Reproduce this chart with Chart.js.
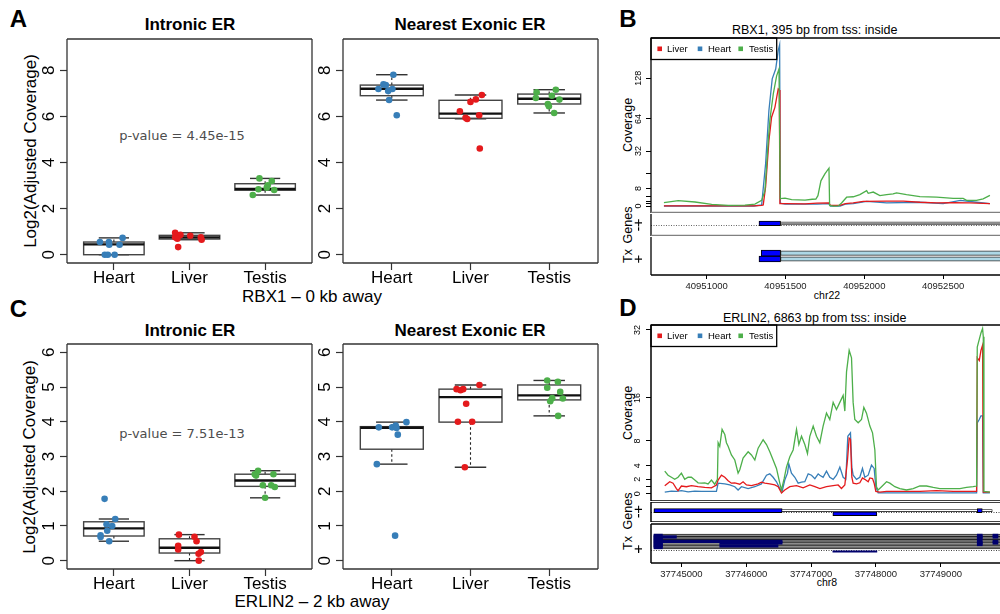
<!DOCTYPE html>
<html><head><meta charset="utf-8">
<script src="https://cdn.jsdelivr.net/npm/chart.js@4.4.1/dist/chart.umd.min.js"></script>
<style>
html,body{margin:0;padding:0;background:#fff;}
body{width:1000px;height:614px;overflow:hidden;position:relative;font-family:"Liberation Sans",Arial,Helvetica,sans-serif;}
canvas{position:absolute;}
.t{position:absolute;white-space:nowrap;line-height:1;transform:translate(-50%,-50%);color:#000;}
.r{transform:translate(-50%,-50%) rotate(-90deg);}
.L{font-weight:bold;font-size:24px;}
.h{font-weight:bold;font-size:17px;}
.p{font-family:"DejaVu Sans",sans-serif;font-size:13px;color:#4d4d4d;}
</style></head><body>
<div class="t L" style="left:18.5px;top:18.5px">A</div>
<div class="t L" style="left:628px;top:18.5px">B</div>
<div class="t L" style="left:18.5px;top:309px">C</div>
<div class="t L" style="left:628px;top:307.5px">D</div>
<div class="t h" style="left:190px;top:23.5px">Intronic ER</div>
<div class="t h" style="left:470px;top:23.5px">Nearest Exonic ER</div>
<div class="t h" style="left:190px;top:330px">Intronic ER</div>
<div class="t h" style="left:470px;top:330px">Nearest Exonic ER</div>
<div class="t r" style="left:30px;top:151px;font-size:17px">Log2(Adjusted Coverage)</div>
<div class="t r" style="left:29px;top:457px;font-size:17px">Log2(Adjusted Coverage)</div>
<div class="t p" style="left:182px;top:135px">p-value = 4.45e-15</div>
<div class="t p" style="left:182px;top:432.5px">p-value = 7.51e-13</div>
<div class="t" style="left:312px;top:296px;font-size:17px">RBX1 – 0 kb away</div>
<div class="t" style="left:312px;top:601px;font-size:17px">ERLIN2 – 2 kb away</div>
<div class="t" style="left:814.7px;top:30px;font-size:12.5px">RBX1, 395 bp from tss: inside</div>
<div class="t" style="left:814.7px;top:317.5px;font-size:12.5px">ERLIN2, 6863 bp from tss: inside</div>
<div class="t r" style="left:627.7px;top:125px;font-size:12.5px">Coverage</div>
<div class="t r" style="left:627.7px;top:413px;font-size:12.5px">Coverage</div>
<div class="t r" style="left:628px;top:224.5px;font-size:12.5px">Genes</div>
<div class="t r" style="left:628px;top:256px;font-size:12.5px">Tx</div>
<div class="t r" style="left:628px;top:511px;font-size:12.5px">Genes</div>
<div class="t r" style="left:628px;top:543px;font-size:12.5px">Tx</div>
<div class="t" style="left:827px;top:295px;font-size:10.5px">chr22</div>
<div class="t" style="left:827px;top:582px;font-size:10.5px">chr8</div>
<script>
// ---------------- DATA ----------------
const tissues = ['Heart', 'Liver', 'Testis'];
const tissueColors = ['#377EB8', '#E41A1C', '#4DAF4A'];

// box statistics per tissue: [lower whisker, Q1, median, Q3, upper whisker]
const aIntronBox = [[0, 0, 0.45, 0.55, 0.73], [0.65, 0.68, 0.75, 0.84, 0.95], [2.59, 2.8, 2.85, 3.08, 3.31]];
const aExonBox = [[6.71, 6.9, 7.2, 7.36, 7.81], [5.9, 5.92, 6.12, 6.7, 6.93], [6.15, 6.54, 6.77, 6.97, 7.16]];
const cIntronBox = [[0.56, 0.71, 0.93, 1.12, 1.2], [0, 0.22, 0.37, 0.63, 0.75], [1.81, 2.14, 2.31, 2.49, 2.59]];
const cExonBox = [[2.78, 3.21, 3.83, 3.86, 3.99], [2.69, 3.99, 4.71, 4.94, 5.06], [4.17, 4.63, 4.76, 5.06, 5.19]];

// sample points per tissue: [jitter (category units), log2 coverage]
const aIntronPts = [
  [[-0.185, 0.55], [-0.066, 0.55], [-0.062, 0.43], [0.075, 0.43], [0.115, 0.73], [-0.12, 0], [-0.08, 0], [0.01, 0]],
  [[-0.19, 0.95], [-0.12, 0.86], [0.01, 0.82], [-0.19, 0.76], [-0.16, 0.69], [0.15, 0.76], [0.16, 0.65], [-0.15, 0.33]],
  [[-0.075, 3.31], [0.088, 3.2], [0.035, 3.01], [0.022, 2.91], [-0.088, 2.84], [0.12, 2.81], [-0.163, 2.59]]
];
const aExonPts = [
  [[0.02, 7.81], [-0.106, 7.39], [-0.076, 7.36], [-0.17, 7.19], [0.008, 7.19], [-0.046, 7.1], [-0.034, 6.71], [0.063, 6.05]],
  [[0.144, 6.93], [0.068, 6.74], [0, 6.63], [-0.135, 6.22], [0.11, 6.05], [-0.063, 5.94], [-0.042, 5.89], [0.118, 4.61]],
  [[0.084, 7.16], [-0.16, 7.05], [0.034, 6.9], [-0.17, 6.8], [0.13, 6.73], [-0.017, 6.54], [-0.004, 6.44], [0.063, 6.15]]
];
const cIntronPts = [
  [[-0.123, 1.78], [0.018, 1.2], [-0.097, 1.05], [-0.022, 1.0], [-0.088, 0.86], [-0.176, 0.73], [-0.176, 0.68], [-0.062, 0.56]],
  [[-0.14, 0.75], [0.066, 0.69], [0.093, 0.56], [-0.15, 0.43], [-0.15, 0.32], [0.15, 0.25], [0.12, 0.2], [0.123, 0]],
  [[-0.093, 2.59], [-0.137, 2.49], [0.11, 2.49], [-0.12, 2.45], [-0.03, 2.17], [0.08, 2.17], [0.128, 2.12], [0, 1.81]]
];
const cExonPts = [
  [[0.186, 3.99], [-0.165, 3.84], [0.004, 3.84], [0.05, 3.89], [0.06, 3.82], [0.076, 3.63], [-0.19, 2.78], [0.042, 0.72]],
  [[0.114, 5.06], [-0.177, 4.94], [-0.127, 4.91], [-0.093, 4.94], [-0.055, 4.52], [-0.16, 4.0], [0.021, 4.0], [-0.072, 2.69]],
  [[-0.025, 5.19], [0.11, 5.15], [-0.025, 4.98], [0.14, 4.86], [0.038, 4.68], [0.173, 4.67], [0.013, 4.59], [0.114, 4.17]]
];
const aYTicks = [0, 2, 4, 6, 8];
const cYTicks = [0, 1, 2, 3, 4, 5, 6];

// coverage tracks: [genomic position, coverage]
const legendNames = ['Liver', 'Heart', 'Testis'];
const bTestis = [[40950729,1.4],[40950820,2.3],[40950926,1.7],[40951032,0.7],[40951137,0.3],[40951243,0.4],[40951306,0.85],[40951349,2.4],[40951370,6.9],[40951391,41],[40951402,64],[40951423,100],[40951444,133],[40951459,148],[40951465,148],[40951467,3.2],[40951497,3.4],[40951539,2.7],[40951624,2.5],[40951670,2.9],[40951693,3],[40951706,4.5],[40951725,12],[40951750,16],[40951776,19.6],[40951780,0.3],[40951803,0],[40951835,0.1],[40951856,1.3],[40951888,3.8],[40951930,4.0],[40951972,5.0],[40952015,6.9],[40952025,5.6],[40952057,6.2],[40952099,4.5],[40952142,5.0],[40952183,5.3],[40952205,5.8],[40952268,5.0],[40952353,4.1],[40952459,3.8],[40952564,3.3],[40952627,3.3],[40952649,2.4],[40952712,2.4],[40952754,3.1],[40952797,4.6]];
const bLiver = [[40950729,0.1],[40951000,0.1],[40951300,0.1],[40951349,0.3],[40951359,0.5],[40951374,8.8],[40951395,41],[40951412,66],[40951433,79],[40951454,108],[40951461,106],[40951465,1.0],[40951497,1.0],[40951624,0.9],[40951700,1.2],[40951775,1.3],[40951785,0.3],[40951846,0.3],[40951880,1.0],[40951930,1.3],[40951994,2.0],[40952142,2.1],[40952248,2.1],[40952353,1.6],[40952459,1.3],[40952564,1.4],[40952670,1.3],[40952797,1.0]];
const bHeart = [[40950729,0.05],[40951300,0.05],[40951349,0.5],[40951374,22.6],[40951395,74.7],[40951416,127],[40951438,148],[40951454,195],[40951463,212],[40951467,1.2],[40951497,0.8],[40951700,0.8],[40951775,1.0],[40951785,0],[40951846,0],[40951880,0.8],[40951930,1.0],[40952015,2.0],[40952142,1.3],[40952353,1.6],[40952500,1.0],[40952610,2.4],[40952712,1.6],[40952797,1.0]];
const dTestis = [[37744743,3.2],[37744794,2.6],[37744846,2.3],[37744897,2.0],[37744948,2.3],[37745000,2.9],[37745051,2.0],[37745103,2.3],[37745154,2.3],[37745206,1.9],[37745257,1.5],[37745308,1.45],[37745360,1.5],[37745411,1.35],[37745463,1.9],[37745514,1.3],[37745555,2.0],[37745566,7.7],[37745591,7.1],[37745627,10],[37745669,9.1],[37745694,7.7],[37745720,7.1],[37745771,5.7],[37745823,4.9],[37745874,2.9],[37745900,3.4],[37745951,5.2],[37746029,6.2],[37746080,5.7],[37746132,4.9],[37746183,6.8],[37746260,8.2],[37746312,7.4],[37746363,6.2],[37746414,4.9],[37746466,3.6],[37746517,1.45],[37746543,0.5],[37746584,2.1],[37746620,3.8],[37746672,5.4],[37746723,6.5],[37746775,10],[37746811,7.4],[37746852,8.8],[37746903,7.4],[37746944,5.9],[37746980,8.8],[37747032,10.6],[37747083,8.8],[37747134,7.7],[37747185,10.6],[37747237,13.0],[37747288,11.8],[37747340,15.1],[37747391,13.7],[37747443,15.1],[37747494,16.5],[37747520,13.4],[37747546,21.6],[37747587,26.7],[37747623,24.9],[37747648,15.1],[37747674,11.8],[37747726,11.2],[37747777,11.8],[37747813,14.1],[37747854,13.0],[37747906,10.6],[37747947,9.4],[37747983,6.5],[37748008,0.95],[37748034,0.5],[37748086,0.95],[37748163,1.65],[37748214,1.45],[37748291,0.95],[37748369,0.7],[37748471,0.5],[37748574,0.7],[37748677,1.05],[37748780,1.05],[37748883,0.85],[37748986,0.7],[37749089,0.7],[37749192,0.7],[37749294,0.7],[37749397,0.85],[37749500,0.95],[37749552,1.05],[37749562,27.5],[37749593,29.5],[37749619,31.2],[37749644,32.4],[37749655,30.2],[37749665,0.3],[37749757,0.2]];
const dLiver = [[37744743,1.1],[37744820,1.65],[37744871,1.45],[37744923,0.7],[37744948,0.4],[37745000,1.05],[37745077,0.95],[37745154,1.1],[37745257,0.95],[37745360,0.85],[37745463,0.8],[37745540,1.2],[37745566,1.9],[37745617,2.6],[37745669,2.3],[37745720,1.8],[37745771,1.45],[37745823,1.5],[37745900,1.3],[37745951,1.65],[37746003,1.2],[37746080,1.1],[37746183,1.35],[37746234,1.6],[37746286,1.45],[37746363,1.35],[37746440,1.2],[37746492,0.95],[37746543,0.1],[37746594,0.5],[37746672,0.95],[37746775,1.1],[37746877,0.8],[37746980,1.2],[37747058,0.95],[37747135,0.7],[37747237,0.95],[37747340,1.1],[37747417,1.2],[37747468,0.7],[37747520,1.2],[37747561,4.9],[37747587,8.5],[37747607,8.3],[37747628,2.3],[37747648,1.45],[37747700,1.35],[37747751,1.5],[37747792,2.2],[37747828,2.0],[37747880,1.65],[37747906,2.2],[37747947,2.1],[37747972,1.45],[37747998,0.3],[37748060,0.2],[37748163,0.3],[37748420,0.3],[37748677,0.3],[37748934,0.4],[37749192,0.3],[37749500,0.3],[37749552,0.3],[37749562,24.9],[37749593,24.2],[37749619,26.7],[37749644,28.0],[37749655,0.2],[37749757,0.2]];
const dHeart = [[37744743,0.2],[37744846,0.35],[37744923,0.3],[37745000,0.4],[37745103,0.25],[37745206,0.35],[37745308,0.3],[37745411,0.3],[37745540,0.3],[37745566,1.45],[37745669,1.35],[37745746,1.2],[37745823,0.95],[37745874,0.5],[37745926,0.95],[37746029,0.7],[37746132,0.95],[37746234,1.35],[37746312,2.6],[37746363,2.8],[37746414,2.3],[37746466,1.65],[37746517,0.7],[37746553,0.3],[37746594,1.9],[37746636,2.9],[37746656,4.3],[37746697,2.9],[37746749,2.3],[37746800,1.45],[37746852,1.6],[37746903,1.65],[37746955,2.8],[37747006,2.6],[37747058,2.1],[37747109,2.8],[37747134,2.6],[37747185,2.3],[37747237,3.2],[37747288,2.3],[37747340,2.0],[37747391,2.6],[37747443,3.8],[37747494,2.3],[37747535,2.0],[37747566,8.8],[37747607,9.4],[37747628,3.8],[37747648,2.6],[37747700,2.0],[37747751,2.3],[37747792,3.6],[37747828,2.3],[37747880,2.6],[37747931,4.1],[37747972,3.6],[37747998,0.95],[37748034,0.1],[37748400,0.1],[37749000,0.1],[37749552,0.1],[37749562,11.2],[37749593,11.8],[37749619,12.5],[37749644,12.5],[37749655,0.1],[37749757,0.1]];
const bCovTicks = [0, 1, 2, 4, 8, 16, 32, 64, 128];
const bCovLabels = ['0', '', '', '', '8', '', '32', '64', '128'];
const dCovTicks = [0, 1, 2, 4, 8, 16, 32];
const dCovLabels = ['0', '', '2', '4', '8', '16', '32'];
const bXTicks = [40951000, 40951500, 40952000, 40952500];
const dXTicks = [37745000, 37746000, 37747000, 37748000, 37749000];

// gene / transcript annotation: [start, end]
const bGeneExons = [[40951332, 40951469]];
const bGeneBody = [[40951469, 40953600]];
const bTxExons = [[[40951346, 40951469]], [[40951332, 40951469]]];
const bTxBody = [[40951469, 40953600], [40951469, 40953600]];
const dGenePlusExons = [[37744577, 37746553], [37749562, 37749639]];
const dGenePlusBody = [[37744577, 37749793]];
const dGeneMinusExons = [[37747335, 37748014]];
const dTxBody = [[37744577, 37750600], [37744577, 37750600], [37744577, 37750600], [37744577, 37750600], [37744577, 37750600], [37744577, 37750600], [37744577, 37750600], [37744577, 37750600], [37744577, 37750600]];
const dTxExons = [
  [[37744577, 37744707], [37749562, 37749639], [37749804, 37749881]],
  [[37744577, 37744923], [37749562, 37749639], [37749804, 37749881]],
  [[37744577, 37744707], [37749562, 37749639]],
  [[37744577, 37744707]],
  [[37744577, 37746553], [37749562, 37749639], [37749804, 37749881]],
  [[37744577, 37744707], [37745591, 37746553], [37749562, 37749639], [37749804, 37749881]],
  [[37744577, 37744707], [37749562, 37749639]],
  [[37744577, 37744707], [37745591, 37746490]],
  [[37744577, 37744707]]
];
const dTxMinus = [[37747335, 37748014]];

// ---------------- RENDERING ----------------
const FONT = '"Liberation Sans", Arial, Helvetica, sans-serif';
Chart.defaults.font.family = FONT;
Chart.defaults.color = '#000';
const tf = v => Math.log2(v + 32) - 5;

function mk(left, top, w, h) {
  const c = document.createElement('canvas');
  c.width = w; c.height = h;
  c.style.left = left + 'px'; c.style.top = top + 'px';
  c.style.width = w + 'px'; c.style.height = h + 'px';
  document.body.appendChild(c);
  return c;
}

const framePlugin = {
  id: 'frames',
  afterDraw(chart, args, opts) {
    const { ctx, chartArea: a } = chart;
    (opts.sides || []).forEach(s => {
      ctx.save();
      ctx.strokeStyle = s.color; ctx.lineWidth = s.width;
      ctx.beginPath();
      if (s.side === 'top') { ctx.moveTo(a.left, a.top); ctx.lineTo(a.right, a.top); }
      if (s.side === 'bottom') { ctx.moveTo(a.left, a.bottom); ctx.lineTo(a.right, a.bottom); }
      if (s.side === 'left') { ctx.moveTo(a.left, a.top); ctx.lineTo(a.left, a.bottom); }
      if (s.side === 'right') { ctx.moveTo(a.right, a.top); ctx.lineTo(a.right, a.bottom); }
      ctx.stroke(); ctx.restore();
    });
  }
};

const boxPlugin = {
  id: 'boxes',
  beforeDatasetsDraw(chart, args, opts) {
    if (!opts.stats) return;
    const { ctx } = chart; const xs = chart.scales.x, ys = chart.scales.y;
    const ln = (x1, y1, x2, y2) => { ctx.beginPath(); ctx.moveTo(x1, y1); ctx.lineTo(x2, y2); ctx.stroke(); };
    opts.stats.forEach((s, i) => {
      const cx = xs.getPixelForValue(i + 1);
      const hw = xs.getPixelForValue(i + 1.4) - cx;
      const [mn, q1, md, q3, mx] = s.map(v => ys.getPixelForValue(v));
      ctx.save();
      ctx.strokeStyle = '#222'; ctx.lineWidth = 1.1;
      ctx.setLineDash([2.5, 2.5]);
      ln(cx, q3, cx, mx); ln(cx, q1, cx, mn);
      ctx.setLineDash([]);
      ctx.strokeStyle = '#333'; ctx.lineWidth = 1.4;
      ln(cx - hw / 2, mx, cx + hw / 2, mx); ln(cx - hw / 2, mn, cx + hw / 2, mn);
      ctx.strokeStyle = '#444'; ctx.lineWidth = 1.4;
      ctx.strokeRect(cx - hw, q3, 2 * hw, q1 - q3);
      ctx.strokeStyle = '#111'; ctx.lineWidth = 2.4;
      ln(cx - hw, md, cx + hw, md);
      ctx.restore();
    });
  }
};

const covLegendPlugin = {
  id: 'covLegend',
  afterDatasetsDraw(chart, args, opts) {
    if (!opts.names) return;
    const { ctx, chartArea: a } = chart;
    ctx.save();
    ctx.fillStyle = '#fff'; ctx.fillRect(a.left, a.top, 125.7, 21.5);
    ctx.strokeStyle = '#000'; ctx.lineWidth = 1.3; ctx.strokeRect(a.left, a.top, 125.7, 21.5);
    ctx.font = '9.5px ' + FONT; ctx.textBaseline = 'middle';
    const sq = [8.7, 49, 89.7], tx = [16, 57, 98];
    opts.names.forEach((n, i) => {
      ctx.fillStyle = opts.colors[i];
      ctx.fillRect(a.left + sq[i] - 2.3, a.top + 10.8 - 2.3, 4.6, 4.6);
      ctx.fillStyle = '#000';
      ctx.fillText(n, a.left + tx[i], a.top + 11);
    });
    ctx.restore();
  }
};

const dottedPlugin = {
  id: 'dotted',
  beforeDatasetsDraw(chart, args, opts) {
    if (!opts.values) return;
    const { ctx, chartArea: a } = chart; const ys = chart.scales.y;
    ctx.save(); ctx.strokeStyle = opts.color || '#555'; ctx.lineWidth = 1; ctx.setLineDash([1, 1.5]);
    opts.values.forEach(v => { const y = Math.round(ys.getPixelForValue(v)) + 0.5; ctx.beginPath(); ctx.moveTo(a.left, y); ctx.lineTo(a.right, y); ctx.stroke(); });
    ctx.restore();
  }
};

const noPad = s => { s.paddingTop = 0; s.paddingBottom = 0; s.paddingLeft = 0; s.paddingRight = 0; };

function boxChart(canvas, stats, pts, yMin, yMax, yTicks, o) {
  return new Chart(canvas, {
    type: 'scatter',
    data: {
      datasets: tissues.map((t, i) => ({
        label: t,
        data: pts[i].map(([j, v]) => ({ x: i + 1 + j, y: v })),
        backgroundColor: tissueColors[i], borderColor: tissueColors[i],
        pointRadius: 3.3, pointBorderWidth: 0, pointHoverRadius: 3.3
      }))
    },
    options: {
      responsive: false, animation: false, devicePixelRatio: 1, events: [],
      layout: { padding: { top: o.padTop, right: o.padRight, left: 0, bottom: 0 } },
      plugins: { legend: { display: false }, tooltip: { enabled: false }, boxes: { stats },
        frames: { sides: ['top', 'bottom', 'left', 'right'].map(s => ({ side: s, color: '#333', width: 1.3 })) } },
      scales: {
        x: {
          type: 'linear', min: 0.38, max: 3.62,
          afterBuildTicks: s => { s.ticks = [1, 2, 3].map(v => ({ value: v })); },
          afterFit: s => { s.height = o.xH; noPad(s); },
          ticks: { autoSkip: false, maxRotation: 0, padding: -1.5, font: { size: 17 }, color: '#000', callback: v => tissues[v - 1] },
          grid: { drawOnChartArea: false, drawTicks: true, tickLength: 7, tickColor: '#333', tickWidth: 1.2 },
          border: { display: false }
        },
        y: {
          type: 'linear', min: yMin, max: yMax,
          afterBuildTicks: s => { s.ticks = yTicks.map(v => ({ value: v })); },
          afterFit: s => { s.width = o.yW; noPad(s); },
          ticks: { autoSkip: false, minRotation: 90, maxRotation: 90, crossAlign: 'center', padding: 6, font: { size: 17 }, color: '#000', callback: v => String(v) },
          grid: { drawOnChartArea: false, drawTicks: true, tickLength: 7, tickColor: '#333', tickWidth: 1.2 },
          border: { display: false }
        }
      }
    },
    plugins: [boxPlugin, framePlugin]
  });
}

function covChart(canvas, series, xMin, xMax, yMin, yMax, tickVals, tickLabels, o) {
  return new Chart(canvas, {
    type: 'line',
    data: {
      datasets: series.map(s => ({
        label: s.name, data: s.data.map(([p, v]) => ({ x: p, y: tf(v) })),
        borderColor: s.color, borderWidth: 1.3, pointRadius: 0, tension: 0, fill: false
      }))
    },
    options: {
      responsive: false, animation: false, devicePixelRatio: 1, events: [],
      layout: { padding: { top: o.padTop, right: o.padRight, left: 0, bottom: 0 } },
      plugins: { legend: { display: false }, tooltip: { enabled: false },
        frames: { sides: o.sides }, covLegend: { names: legendNames, colors: ['#E41A1C', '#377EB8', '#4DAF4A'] } },
      scales: {
        x: { type: 'linear', min: xMin, max: xMax, display: false },
        y: {
          type: 'linear', min: yMin, max: yMax,
          afterBuildTicks: s => { s.ticks = tickVals.map(v => ({ value: tf(v) })); },
          afterFit: s => { s.width = o.yW; noPad(s); },
          ticks: { autoSkip: false, minRotation: 90, maxRotation: 90, crossAlign: 'center', padding: o.tickPad, font: { size: 9 }, color: '#000', callback: (v, i) => tickLabels[i] },
          grid: { drawOnChartArea: false, drawTicks: true, tickLength: 5, tickColor: '#000', tickWidth: 1 },
          border: { display: false }
        }
      }
    },
    plugins: [framePlugin, covLegendPlugin]
  });
}

function bars(rows, thickness, bg, border, bw) {
  return { type: 'bar', data: rows, backgroundColor: bg, borderColor: border, borderWidth: bw, barThickness: thickness, grouped: false, borderSkipped: false };
}

function trackChart(canvas, datasets, o) {
  return new Chart(canvas, {
    type: 'bar',
    data: { datasets },
    options: {
      indexAxis: 'y', responsive: false, animation: false, devicePixelRatio: 1, events: [],
      layout: { padding: { top: o.padTop, right: o.padRight, left: 0, bottom: 0 } },
      plugins: { legend: { display: false }, tooltip: { enabled: false }, frames: { sides: o.sides }, dotted: { values: o.dotted, color: o.dotColor } },
      scales: {
        x: {
          type: 'linear', min: o.xMin, max: o.xMax, display: !!o.xTicks,
          afterBuildTicks: s => { if (o.xTicks) s.ticks = o.xTicks.map(v => ({ value: v })); },
          afterFit: s => { s.height = o.xH || 0; noPad(s); },
          ticks: { autoSkip: false, maxRotation: 0, padding: 2, font: { size: 9.5 }, color: '#222', callback: v => String(v) },
          grid: { drawOnChartArea: false, drawTicks: true, tickLength: 4, tickColor: '#000', tickWidth: 1 },
          border: { display: false }
        },
        y: {
          type: 'linear', min: 0, max: 1,
          afterBuildTicks: s => { s.ticks = o.yTicks.map(v => ({ value: v })); },
          afterFit: s => { s.width = o.yW; noPad(s); },
          ticks: { autoSkip: false, minRotation: 90, maxRotation: 90, crossAlign: 'center', padding: 8, font: { size: 15 }, color: '#000', callback: (v, i) => o.yLabels[i] },
          grid: { display: false, drawTicks: false, tickLength: 0 },
          border: { display: false }
        }
      }
    },
    plugins: [framePlugin, dottedPlugin]
  });
}

// ---- Panel A / C box plots ----
boxChart(mk(0, 0, 320, 300), aIntronBox, aIntronPts, -0.36, 9.36, aYTicks, { padTop: 39, padRight: 8, yW: 67, xH: 37 });
boxChart(mk(300, 0, 310, 300), aExonBox, aExonPts, -0.36, 9.36, aYTicks, { padTop: 39, padRight: 12, yW: 43, xH: 37 });
boxChart(mk(0, 300, 320, 314), cIntronBox, cIntronPts, -0.24, 6.24, cYTicks, { padTop: 44, padRight: 8, yW: 67, xH: 45 });
boxChart(mk(300, 300, 310, 314), cExonBox, cExonPts, -0.24, 6.24, cYTicks, { padTop: 44, padRight: 12, yW: 43, xH: 45 });

// ---- Panel B ----
const bX = [40950647, 40952880];
covChart(mk(600, 30, 420, 183), [
  { name: 'Testis', data: bTestis, color: '#4DAF4A' },
  { name: 'Liver', data: bLiver, color: '#E41A1C' },
  { name: 'Heart', data: bHeart, color: '#377EB8' }
], bX[0], bX[1], -0.125, 3.055, bCovTicks, bCovLabels,
  { padTop: 8, padRight: 17, yW: 51, tickPad: 0, sides: [{ side: 'top', color: '#000', width: 1.3 }, { side: 'left', color: '#000', width: 1.3 }, { side: 'bottom', color: '#808080', width: 2.7 }] });

const toRows = (arr, y) => arr.map(([s, e]) => ({ x: [s, e], y }));
trackChart(mk(600, 213, 420, 23), [
  bars(toRows(bGeneExons, 0.65), 4.5, '#0000FF', '#000', 1),
  bars(toRows(bGeneBody, 0.65), 3, '#8c8c8c', '#555', 0.6)
], { xMin: bX[0], xMax: bX[1], padTop: 1, padRight: 17, yW: 51, yTicks: [0.7, 0.14], yLabels: ['+', '-'], dotted: [0.53], dotColor: '#666',
  sides: [{ side: 'left', color: '#000', width: 1.3 }, { side: 'bottom', color: '#808080', width: 2.7 }] });

trackChart(mk(600, 236, 420, 64), [
  bars(toRows(bTxExons[0], 0.65), 6, '#0000FF', '#000', 1),
  bars(toRows(bTxExons[1], 0.34), 6, '#0000FF', '#000', 1),
  bars(toRows([bTxBody[0]], 0.65), 4.5, '#ADD8E6', '#333', 1),
  bars(toRows([bTxBody[1]], 0.34), 4.5, '#ADD8E6', '#333', 1)
], { xMin: bX[0], xMax: bX[1], padTop: 1, padRight: 17, yW: 51, xH: 25, xTicks: bXTicks, yTicks: [0.34], yLabels: ['+'],
  sides: [{ side: 'left', color: '#000', width: 1.3 }, { side: 'bottom', color: '#000', width: 1.3 }] });

// ---- Panel D ----
const dX = [37744531, 37749959];
covChart(mk(600, 320, 420, 181), [
  { name: 'Testis', data: dTestis, color: '#4DAF4A' },
  { name: 'Liver', data: dLiver, color: '#E41A1C' },
  { name: 'Heart', data: dHeart, color: '#377EB8' }
], dX[0], dX[1], -0.045, 1.0305, dCovTicks, dCovLabels,
  { padTop: 5, padRight: 17, yW: 51, tickPad: 3, sides: ['top', 'left', 'bottom'].map(s => ({ side: s, color: '#000', width: 1.5 })) });

trackChart(mk(600, 502, 420, 20), [
  bars(toRows(dGenePlusExons, 0.635), 4, '#0000FF', '#000', 1),
  bars(toRows(dGenePlusBody, 0.635), 2.2, '#fff', '#000', 0.8),
  bars(toRows(dGeneMinusExons, 0.325), 4, '#0000FF', '#000', 1)
], { xMin: dX[0], xMax: dX[1], padTop: 0, padRight: 17, yW: 51, yTicks: [0.76, 0.12], yLabels: ['+', '-'], dotted: [0.485], dotColor: '#444',
  sides: ['top', 'left', 'bottom'].map(s => ({ side: s, color: '#000', width: 1.5 })) });

const dTxDatasets = [];
dTxExons.forEach((ex, k) => { dTxDatasets.push(bars(toRows(ex, 0.915 - k * 0.0775), 2.6, '#00006e', '#000', 0)); });
dTxBody.forEach((b, k) => { dTxDatasets.push(bars(toRows([b], 0.915 - k * 0.0775), 2.6, '#8c8c8c', '#000', 0.7)); });
dTxDatasets.push(bars(toRows(dTxMinus, 0.09), 1.5, '#00006e', '#00006e', 0));
trackChart(mk(600, 522, 420, 71), dTxDatasets,
  { xMin: dX[0], xMax: dX[1], padTop: 2, padRight: 17, yW: 51, xH: 30, xTicks: dXTicks, yTicks: [0.22, 0.1], yLabels: ['+', '-'], dotted: [0.155], dotColor: '#444',
  sides: ['top', 'left', 'bottom'].map(s => ({ side: s, color: '#000', width: 1.5 })) });
</script>
</body></html>
